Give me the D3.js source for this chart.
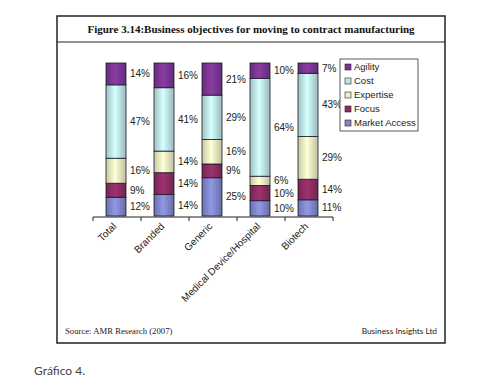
<!DOCTYPE html>
<html>
<head>
<meta charset="utf-8">
<script src="https://cdn.jsdelivr.net/npm/d3@7"></script>
<style>
  body { margin: 0; background: #fff; }
  svg { display: block; }
</style>
</head>
<body>
<svg id="chart" width="500" height="390"></svg>
<script>
// Data
const categories = ["Total", "Branded", "Generic", "Medical Device/Hospital", "Biotech"];
const series = ["Market Access", "Focus", "Expertise", "Cost", "Agility"];
const marketAccess = [12, 14, 25, 10, 11];
const focus = [9, 14, 9, 10, 14];
const expertise = [16, 14, 16, 6, 29];
const cost = [47, 41, 29, 64, 43];
const agility = [14, 16, 21, 10, 7];
const legendOrder = ["Agility", "Cost", "Expertise", "Focus", "Market Access"];

const colors = {
  "Agility": "#7b3592",
  "Cost": "#bde8ea",
  "Expertise": "#eeeebf",
  "Focus": "#8c2c62",
  "Market Access": "#7f86cc"
};

// build rows for d3.stack
const rows = categories.map((c, i) => ({
  cat: c,
  "Market Access": marketAccess[i],
  "Focus": focus[i],
  "Expertise": expertise[i],
  "Cost": cost[i],
  "Agility": agility[i]
}));

const svg = d3.select("#chart");

// Outer frame and title box
svg.append("rect")
   .attr("x", 57).attr("y", 16).attr("width", 388).attr("height", 327)
   .attr("fill", "none").attr("stroke", "#222").attr("stroke-width", 1.5);
svg.append("line")
   .attr("x1", 57).attr("x2", 445).attr("y1", 42).attr("y2", 42)
   .attr("stroke", "#222").attr("stroke-width", 1);

svg.append("text")
   .attr("x", 251).attr("y", 33)
   .attr("text-anchor", "middle")
   .attr("font-family", "Liberation Serif, Times New Roman, serif")
   .attr("font-weight", "bold")
   .attr("font-size", 11)
   .attr("fill", "#111")
   .text("Figure 3.14:Business objectives for moving to contract manufacturing");

// gradients to give bars the shaded look
const defs = svg.append("defs");
series.forEach((s, i) => {
  const base = d3.color(colors[s]);
  const g = defs.append("linearGradient")
      .attr("id", "grad" + i)
      .attr("x1", "0%").attr("x2", "100%").attr("y1", "0%").attr("y2", "0%");
  g.append("stop").attr("offset", "0%").attr("stop-color", base.darker(0.5));
  g.append("stop").attr("offset", "45%").attr("stop-color", base.brighter(0.35));
  g.append("stop").attr("offset", "100%").attr("stop-color", base.darker(0.6));
});

// Scales
const x = d3.scaleBand().domain(categories).range([93, 333]).paddingInner(0).paddingOuter(0);
const y = d3.scaleLinear().domain([0, 1]).range([216, 63]);
const barW = 20;

const stack = d3.stack().keys(series).offset(d3.stackOffsetExpand);
const stacked = stack(rows);

const layers = svg.selectAll(".layer")
   .data(stacked)
   .enter().append("g")
   .attr("class", "layer");

layers.selectAll("rect")
   .data((d, i) => d.map(p => ({ p: p, i: i, key: d.key })))
   .enter().append("rect")
   .attr("x", d => x(d.p.data.cat) + x.bandwidth() / 2 - barW / 2 - 1)
   .attr("y", d => y(d.p[1]))
   .attr("width", barW)
   .attr("height", d => y(d.p[0]) - y(d.p[1]))
   .attr("fill", d => "url(#grad" + d.i + ")")
   .attr("stroke", "#1a1a2a")
   .attr("stroke-width", 0.8);

// value labels
layers.selectAll("text")
   .data(d => d.map(p => ({ p: p, key: d.key })))
   .enter().append("text")
   .attr("x", d => x(d.p.data.cat) + x.bandwidth() / 2 + barW / 2 + 3)
   .attr("y", d => (y(d.p[0]) + y(d.p[1])) / 2)
   .attr("dy", "0.35em")
   .attr("font-family", "Liberation Sans, Arial, sans-serif")
   .attr("font-size", 10)
   .attr("fill", "#222")
   .text(d => d.p.data[d.key] + "%");

// x axis with ticks at band boundaries
const axis = svg.append("g");
axis.append("line")
   .attr("x1", x.range()[0]).attr("x2", x.range()[1])
   .attr("y1", 217).attr("y2", 217)
   .attr("stroke", "#222").attr("stroke-width", 1);
const tickPos = categories.map(c => x(c)).concat([x.range()[1]]);
axis.selectAll(".tick")
   .data(tickPos)
   .enter().append("line")
   .attr("x1", d => d).attr("x2", d => d)
   .attr("y1", 217).attr("y2", 221)
   .attr("stroke", "#222");

axis.selectAll(".catlabel")
   .data(categories)
   .enter().append("text")
   .attr("transform", d => `translate(${x(d) + x.bandwidth() / 2},${227}) rotate(-45)`)
   .attr("text-anchor", "end")
   .attr("font-family", "Liberation Sans, Arial, sans-serif")
   .attr("font-size", 10)
   .attr("fill", "#222")
   .text(d => d);

// legend
const legend = svg.append("g");
legend.append("rect")
   .attr("x", 340).attr("y", 59).attr("width", 78).attr("height", 72)
   .attr("fill", "#fff").attr("stroke", "#333").attr("stroke-width", 0.8);
const items = legend.selectAll(".item")
   .data(legendOrder)
   .enter().append("g")
   .attr("transform", (d, i) => `translate(345,${67 + i * 14})`);
items.append("rect")
   .attr("x", 0).attr("y", -3).attr("width", 6).attr("height", 6)
   .attr("fill", d => colors[d])
   .attr("stroke", "#222").attr("stroke-width", 0.6);
items.append("text")
   .attr("x", 9).attr("y", 0).attr("dy", "0.35em")
   .attr("font-family", "Liberation Sans, Arial, sans-serif")
   .attr("font-size", 9.5)
   .attr("fill", "#222")
   .text(d => d);

// footer
svg.append("text")
   .attr("x", 65).attr("y", 334)
   .attr("font-family", "Liberation Serif, Times New Roman, serif")
   .attr("font-size", 8.7)
   .attr("fill", "#222")
   .text("Source:  AMR Research (2007)");
svg.append("text")
   .attr("x", 437).attr("y", 334)
   .attr("text-anchor", "end")
   .attr("font-family", "Lato, Open Sans, sans-serif")
   .attr("font-size", 8.3)
   .attr("fill", "#222")
   .text("Business Insights Ltd");

svg.append("text")
   .attr("x", 34).attr("y", 375)
   .attr("font-family", "Lato, Open Sans, sans-serif")
   .attr("font-size", 12)
   .attr("fill", "#444")
   .text("Gráfico 4.");
</script>
</body>
</html>
